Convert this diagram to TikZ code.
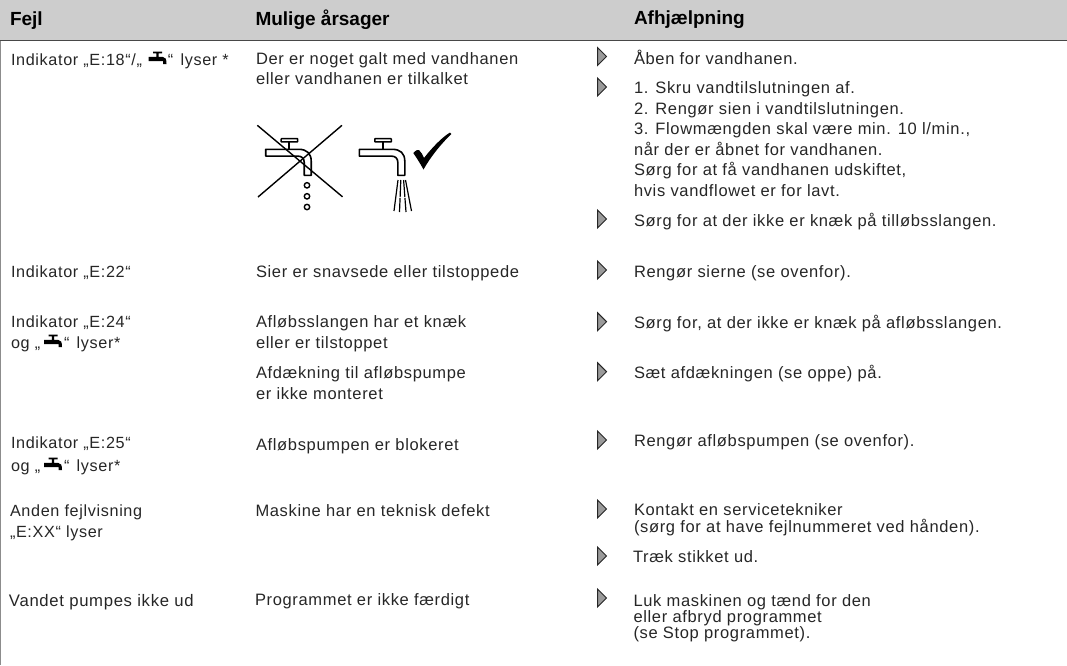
\documentclass[tikz,border=0pt]{standalone}
\usepackage{fontspec}
\setmainfont[LetterSpace=4]{Liberation Sans}
\newfontfamily\headfont{Liberation Sans}
\definecolor{headgray}{HTML}{CDCDCD}
\definecolor{inkc}{HTML}{262626}
\definecolor{arrowfill}{HTML}{9A9A9A}
\tikzset{
  x=1pt,y=-1pt,
  txt/.style={anchor=base west,inner sep=0pt,outer sep=0pt,align=left,text=inkc,font=\fontsize{16.5}{20.6}\selectfont},
  txtb/.style={txt,font=\fontsize{16.2}{20.6}\selectfont},
  head/.style={anchor=base west,inner sep=0pt,outer sep=0pt,text=black,font=\headfont\bfseries\fontsize{19}{20}\selectfont},
  pointer/.pic={\draw[draw=inkc,fill=arrowfill,line width=1pt,line join=miter] (-4.5,-9) -- (4.5,0) -- (-4.5,9) -- cycle;},
  tapmark/.pic={\fill[black] (-4.5,-9.5) rectangle (4.5,-7.6) (-1.2,-8) rectangle (1.2,-4) (-9,-4.2) -- (5,-4.2) .. controls (8,-4.2) and (9,-2) .. (9,3) -- (5.5,3) -- (5.5,0) -- (-9,0) -- cycle;},
  tap/.pic={
    \draw[line width=1.6pt,line join=round,fill=white] (0,0) -- (33,0) .. controls (41,0) and (45.5,4) .. (45.5,12) -- (45.5,26) -- (38.5,26) -- (38.5,13) .. controls (38.5,9) and (36,6.8) .. (32,6.8) -- (0,6.8) -- cycle;
    \draw[line width=1.5pt,fill=white,rounded corners=.5pt] (15.5,-10.6) rectangle (32,-7.4);
    \draw[line width=1.8pt] (23.6,-7.4) -- (23.6,0);
  }
}
\begin{document}
\begin{tikzpicture}
\useasboundingbox (0,0) rectangle (1067,665);
\fill[headgray] (0,0) rectangle (1067,40);
\draw[draw=inkc!85,line width=1.1pt] (0,40.5) -- (1067,40.5);
\draw[draw=black!45,line width=1.3pt] (.4,40.5) -- (.4,665);

\node[head] (h1) at (10,25) {Fejl};
\node[head] (h2) at (255.5,25) {Mulige årsager};
\node[head] (h3) at (634,24) {Afhjælpning};

% column 1
\node[txtb] (a1) at (11,65) {Indikator „E:18“/„\hspace{26pt}“\hspace{2pt} lyser *};
\pic at (157.5,61) {tapmark};
\node[txtb] (a2) at (11,277) {Indikator „E:22“};
\node[txtb] (a3) at (11,327) {Indikator „E:24“};
\node[txtb] (a3b) at (11,348) {og „\hspace{24pt}“\hspace{2pt} lyser*};
\pic at (53,344) {tapmark};
\node[txtb] (a4) at (11,448) {Indikator „E:25“};
\node[txtb] (a4b) at (11,471) {og „\hspace{24pt}“\hspace{2pt} lyser*};
\pic at (53,467) {tapmark};
\node[txtb] (a5) at (10,516) {Anden fejlvisning};
\node[txtb] (a5b) at (10,537) {„E:XX“ lyser};
\node[txt,font=\fontsize{16.7}{20.6}\selectfont] (a6) at (9,606.5) {Vandet pumpes ikke ud};

% column 2
\node[txt] (b1) at (256,64.5) {Der er noget galt med vandhanen};
\node[txt] (b1b) at (256,84.5) {eller vandhanen er tilkalket};
\node[txt] (b2) at (256,277) {Sier er snavsede eller tilstoppede};
\node[txt] (b3) at (256,327) {Afløbsslangen har et knæk};
\node[txt] (b3b) at (256,348) {eller er tilstoppet};
\node[txt] (b4) at (256,378) {Afdækning til afløbspumpe};
\node[txt] (b4b) at (256,399) {er ikke monteret};
\node[txt] (b5) at (256,450) {Afløbspumpen er blokeret};
\node[txt] (b6) at (255.5,516) {Maskine har en teknisk defekt};
\node[txt] (b7) at (255,605) {Programmet er ikke færdigt};

% column 3
\node[txt] (c1) at (634,64) {Åben for vandhanen.};
\node[txt] (c2) at (634,93) {1. Skru vandtilslutningen af.};
\node[txt] (c2b) at (634,114) {2. Rengør sien i vandtilslutningen.};
\node[txt] (c2c) at (634,134) {3. Flowmængden skal være min. 10 l/min.,};
\node[txt] (c2d) at (634,155) {når der er åbnet for vandhanen.};
\node[txt] (c2e) at (634,175) {Sørg for at få vandhanen udskiftet,};
\node[txt] (c2f) at (634,196) {hvis vandflowet er for lavt.};
\node[txt] (c3) at (634,226) {Sørg for at der ikke er knæk på tilløbsslangen.};
\node[txt] (c4) at (634,277) {Rengør sierne (se ovenfor).};
\node[txt] (c5) at (634,328) {Sørg for, at der ikke er knæk på afløbsslangen.};
\node[txt] (c6) at (634,378) {Sæt afdækningen (se oppe) på.};
\node[txt] (c7) at (634,446) {Rengør afløbspumpen (se ovenfor).};
\node[txt] (c8) at (634,515) {Kontakt en servicetekniker};
\node[txt] (c8b) at (634,532) {(sørg for at have fejlnummeret ved hånden).};
\node[txt] (c9) at (633,562) {Træk stikket ud.};
\node[txt] (c10) at (633.5,606) {Luk maskinen og tænd for den};
\node[txt] (c10b) at (633.5,622) {eller afbryd programmet};
\node[txt] (c10c) at (633.5,638) {(se Stop programmet).};

% pointers
\foreach \py in {56.5,87,219,270,321.7,371.7,440,509,556,598}
  \pic at (602,\py) {pointer};

% tap pictures
\pic at (265.7,149.3) {tap};
\draw[line width=1.4pt] (257.3,125.3) -- (342.5,196.8) (342,125.3) -- (258,197);
\foreach \cy in {185.3,196.3,207}
  \draw[line width=1.4pt] (307,\cy) circle (2.7);
\pic at (359.3,149.3) {tap};
\draw[line width=1.2pt] (398,180) -- (394,211) (405.5,180) -- (411.5,211);
\draw[line width=1.2pt,dash pattern=on 17pt off 1pt] (400.8,180) -- (399.5,212) (403.6,180) -- (406,212);
\fill[black] (413.3,153) .. controls (416,150) and (418,149.5) .. (419,150) .. controls (421,152) and (423,155) .. (424,158) .. controls (431,149) and (441,138) .. (450,132.5) -- (451.3,134) .. controls (442,143) and (431,156) .. (423.5,169.5) .. controls (420,163) and (416,157) .. (413.3,153) -- cycle;
\end{tikzpicture}
\end{document}
